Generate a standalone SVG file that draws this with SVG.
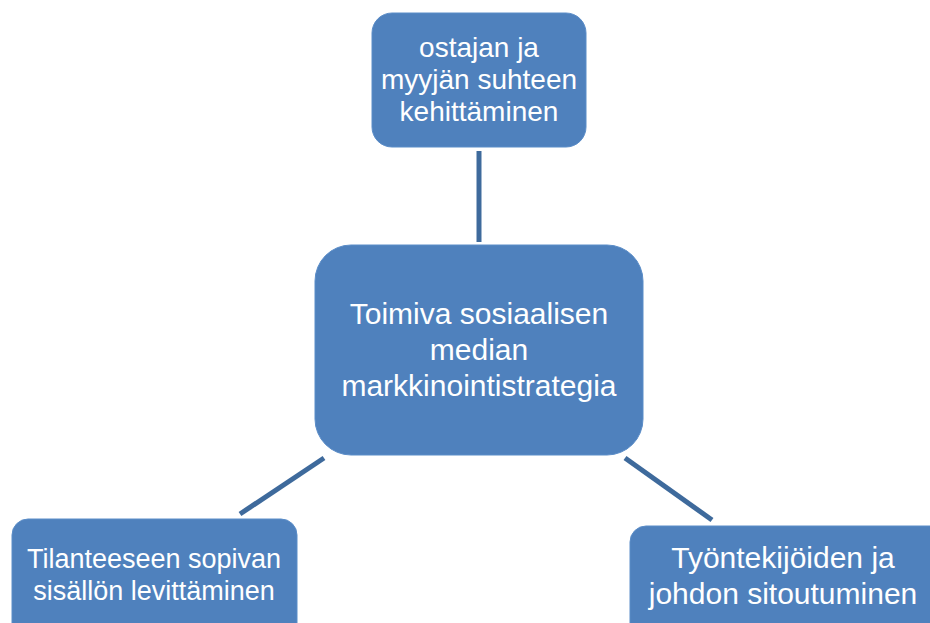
<svg xmlns="http://www.w3.org/2000/svg" width="930" height="623" viewBox="0 0 930 623">
<style>
.box{fill:#4F81BD;stroke:#5B8DC8;stroke-width:1}
.t{fill:#FFFFFF;font-family:"Liberation Sans",Arial,sans-serif;text-anchor:middle}
.c{stroke:#3E6A9C;stroke-width:5;fill:none}
</style>
<rect width="930" height="623" fill="#FFFFFF"/>
<g id="connectors">
<line class="c" x1="479" y1="151" x2="479" y2="242"/>
<line class="c" x1="324" y1="458" x2="240" y2="514"/>
<line class="c" x1="625" y1="458" x2="712" y2="520"/>
</g>
<g id="node-top">
<rect class="box" x="372" y="13" width="214" height="134" rx="20"/>
<text class="t" font-size="28"><tspan x="479" y="57">ostajan ja</tspan><tspan x="479" y="89">myyjän suhteen</tspan><tspan x="479" y="121">kehittäminen</tspan></text>
</g>
<g id="node-center">
<rect class="box" x="315" y="245" width="328" height="210" rx="36"/>
<text class="t" font-size="30"><tspan x="479" y="324">Toimiva sosiaalisen</tspan><tspan x="479" y="360">median</tspan><tspan x="479" y="396">markkinointistrategia</tspan></text>
</g>
<g id="node-left">
<rect class="box" x="12" y="519" width="285" height="130" rx="16"/>
<text class="t" font-size="27"><tspan x="154" y="568">Tilanteeseen sopivan</tspan><tspan x="154" y="600">sisällön levittäminen</tspan></text>
</g>
<g id="node-right">
<rect class="box" x="630" y="526" width="320" height="130" rx="16"/>
<text class="t" font-size="30"><tspan x="783" y="568">Työntekijöiden ja</tspan><tspan x="783" y="604">johdon sitoutuminen</tspan></text>
</g>
</svg>
